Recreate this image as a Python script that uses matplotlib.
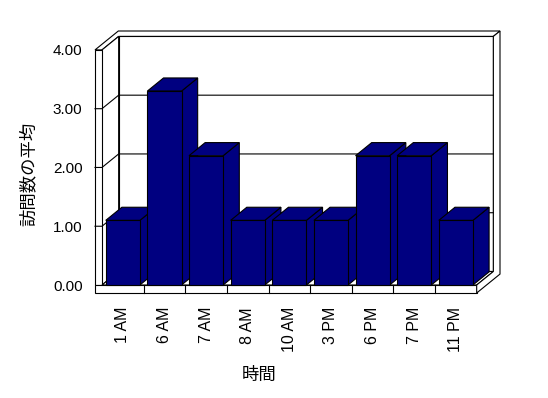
import numpy as np
import matplotlib.pyplot as plt
from matplotlib.patches import Polygon

plt.rcParams['font.family'] = ['Liberation Sans', 'Noto Sans CJK JP']

# data
hours = ['1 AM', '6 AM', '7 AM', '8 AM', '10 AM', '3 PM', '6 PM', '7 PM', '11 PM']
visits = [1.1, 3.3, 2.2, 1.1, 1.1, 1.1, 2.2, 2.2, 1.1]
yticks = [0, 1, 2, 3, 4]
ytick_labels = ['0.00', '1.00', '2.00', '3.00', '4.00']
xlabel = '時間'
ylabel = '訪問数の平均'

navy = '#000080'
# fake 3d: offset of one unit of depth
DX, DY = 0.4, 0.23
WT = 0.168   # left wall thickness
FT = 0.136   # floor thickness
BT = 0.4     # back wall thickness (depth)
BW = 0.82    # bar width
BD = 0.97    # bar depth
x0, x1 = -0.5, len(hours) - 0.5
ytop = yticks[-1]
LW = 0.8


def P(x, y, z):
    return (x + z * DX, y + z * DY)


def face(ax, pts, fc='white', zo=1):
    ax.add_patch(Polygon([P(*p) for p in pts], closed=True, facecolor=fc,
                         edgecolor='black', lw=LW, zorder=zo, joinstyle='miter',
                         clip_on=False))


fig = plt.figure(figsize=(5.48, 3.98), dpi=100)
ax = fig.add_axes([95 / 548, 105 / 398, 405 / 548, 262 / 398])
ax.set_xlim(x0 - WT, x1 + (1 + BT) * DX)
ax.set_ylim(-FT, ytop + (1 + BT) * DY)
for s in ax.spines.values():
    s.set_visible(False)
ax.patch.set_visible(False)

# walls
face(ax, [(x0 - WT, ytop, 0), (x0, ytop, 0), (x0, ytop, 1), (x1, ytop, 1),
          (x1, ytop, 1 + BT), (x0 - WT, ytop, 1 + BT)])
face(ax, [(x0, 0, 1), (x1, 0, 1), (x1, ytop, 1), (x0, ytop, 1)])
face(ax, [(x0, 0, 0), (x0, 0, 1), (x0, ytop, 1), (x0, ytop, 0)])
face(ax, [(x0 - WT, 0, 0), (x0, 0, 0), (x0, ytop, 0), (x0 - WT, ytop, 0)])
face(ax, [(x0, 0, 0), (x1, 0, 0), (x1, 0, 1), (x0, 0, 1)])
face(ax, [(x0 - WT, -FT, 0), (x1, -FT, 0), (x1, 0, 0), (x0 - WT, 0, 0)])
face(ax, [(x1, -FT, 0), (x1, 0, 0), (x1, 0, 1), (x1, ytop, 1),
          (x1, ytop, 1 + BT), (x1, -FT, 1 + BT)])

# gridlines
for k in yticks[1:-1]:
    pts = [P(x0 - WT, k, 0), P(x0, k, 0), P(x0, k, 1), P(x1, k, 1)]
    ax.plot([p[0] for p in pts], [p[1] for p in pts], color='black', lw=LW,
            zorder=2, clip_on=False)

# dividers on floor front
for i in range(len(hours) - 1):
    ax.plot([i + 0.5, i + 0.5], [-FT, 0], color='black', lw=LW, zorder=2,
            clip_on=False)

# bars
x = np.arange(len(hours))
bars = ax.bar(x, visits, width=BW, color=navy, edgecolor='black', linewidth=LW)
for i, v in enumerate(visits):
    xl, xr = i - BW / 2, i + BW / 2
    face(ax, [(xr, 0, 0), (xr, 0, BD), (xr, v, BD), (xr, v, 0)], navy, 10 + 3 * i)
    face(ax, [(xl, v, 0), (xr, v, 0), (xr, v, BD), (xl, v, BD)], navy, 11 + 3 * i)
    bars[i].set_zorder(12 + 3 * i)

ax.set_yticks(yticks, ytick_labels)
ax.set_xticks(x, hours, rotation=90)
ax.tick_params(axis='y', length=0, pad=9, labelsize=11)
ax.tick_params(axis='x', length=0, pad=10, labelsize=11.5)

ax.set_ylabel(ylabel, fontsize=12.5)
ax.yaxis.set_label_coords(-0.143, 0.454)
ax.set_xlabel(xlabel, fontsize=12.5)
ax.xaxis.set_label_coords(0.405, -0.282)

plt.savefig('out.png', dpi=100)
